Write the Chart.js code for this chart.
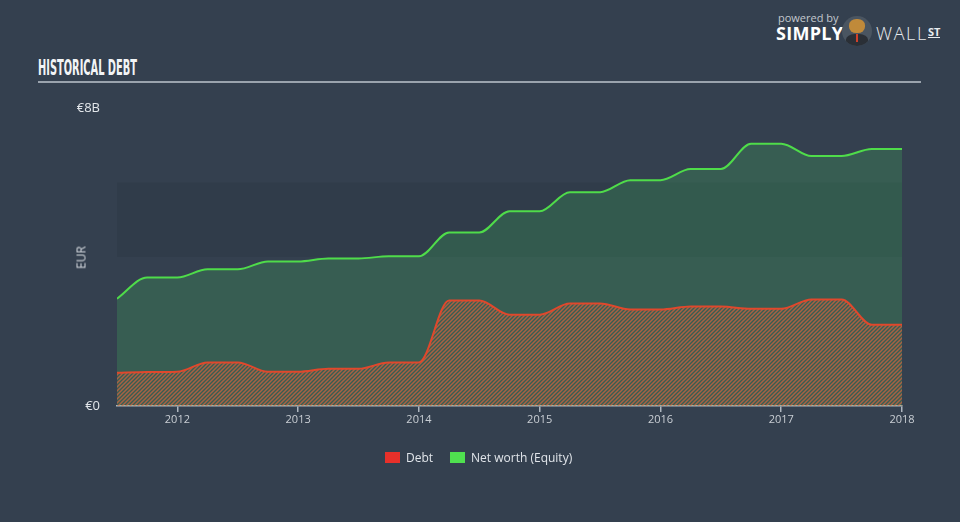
<!DOCTYPE html>
<html>
<head>
<meta charset="utf-8">
<script src="https://cdn.jsdelivr.net/npm/chart.js@4"></script>
<style>
  html, body { margin:0; padding:0; }
  body { width:960px; height:522px; background:#34404f; overflow:hidden; position:relative; font-family:"Open Sans", "DejaVu Sans", sans-serif; }
  #title { position:absolute; left:38px; top:58px; color:#f2f4f6; font:bold 21px "DejaVu Sans Condensed", sans-serif; transform-origin:left top; white-space:nowrap; line-height:21px; }
  #rule { position:absolute; left:38px; top:81px; width:883px; height:2px; background:#9aa3ad; }
  #wrap { position:absolute; left:0; top:0; width:960px; height:522px; }
  #ylab { position:absolute; left:68px; top:249px; color:#d3d8dd; font-size:12px; transform:rotate(-90deg); transform-origin:center; width:26px; text-align:center; }
  #legend { position:absolute; top:449px; left:385px; font-size:12px; color:#e1e5ea; display:flex; align-items:center; }
  #legend .sw { display:inline-block; width:15px; height:11px; margin-right:6px; }
  #legend .item { display:flex; align-items:center; margin-right:17px; }
  #logo { position:absolute; left:776px; top:10px; color:#fff; }
  #logo .pb { position:absolute; left:2px; top:0px; font-size:11px; color:#c3c8ce; white-space:nowrap; }
  #logo .simply { position:absolute; left:0; top:11px; font:bold 18px "Open Sans", sans-serif; letter-spacing:0.3px; white-space:nowrap; }
  #logo .bull { position:absolute; left:66px; top:6px; width:30px; height:30px; border-radius:50%; background:#4a5561; overflow:hidden; }
  #logo .face { position:absolute; left:7px; top:3px; width:16px; height:14px; border-radius:45%; background:#c08a3a; }
  #logo .suit { position:absolute; left:4px; top:18px; width:22px; height:14px; border-radius:40% 40% 0 0; background:#2a2f36; }
  #logo .tie { position:absolute; left:14px; top:18px; width:2px; height:8px; background:#d0402a; }
  #logo .wall { position:absolute; left:100px; top:11px; font:300 18px "Open Sans", sans-serif; letter-spacing:1.6px; white-space:nowrap; color:#e8ebee; }
  #logo .st { position:absolute; left:152px; top:17px; font:bold 11px "Open Sans", sans-serif; border-bottom:1.5px solid #e8ebee; line-height:10px; color:#e8ebee; }
</style>
</head>
<body>
<div id="title">HISTORICAL DEBT</div>
<div id="rule"></div>
<div id="logo">
  <div class="pb">powered by</div>
  <div class="simply">SIMPLY</div>
  <div class="bull"><div class="suit"></div><div class="face"></div><div class="tie"></div></div>
  <div class="wall">WALL</div>
  <div class="st">ST</div>
</div>
<div id="wrap"><canvas id="debtChart" width="960" height="522"></canvas></div>
<div id="ylab">EUR</div>
<div id="legend">
  <span class="item"><span class="sw" style="background:#e8302a"></span>Debt</span>
  <span class="item"><span class="sw" style="background:#4fe04f"></span>Net worth (Equity)</span>
</div>
<script>
// quarter ends, Q2 2011 .. Q4 2017
const quarters = ['2011Q2','2011Q3','2011Q4','2012Q1','2012Q2','2012Q3','2012Q4','2013Q1','2013Q2','2013Q3','2013Q4',
  '2014Q1','2014Q2','2014Q3','2014Q4','2015Q1','2015Q2','2015Q3','2015Q4','2016Q1','2016Q2','2016Q3','2016Q4',
  '2017Q1','2017Q2','2017Q3','2017Q4'];
// EUR billions
const debt = [0.89,0.91,0.92,1.17,1.17,0.92,0.92,1.0,1.0,1.17,1.17,2.83,2.83,2.45,2.45,2.75,2.75,2.59,2.59,2.67,2.67,2.61,2.61,2.86,2.86,2.18,2.18];
const netWorth = [2.88,3.45,3.45,3.67,3.67,3.88,3.88,3.96,3.96,4.02,4.02,4.66,4.66,5.23,5.23,5.74,5.74,6.06,6.06,6.36,6.36,7.04,7.04,6.71,6.71,6.9,6.9];
const yearTicks = [2012,2013,2014,2015,2016,2017,2018];
const yTicks = [0,8];
const bandEdges = [0,2,4,6,8];

// squeeze the title to the width it has in the picture
const t = document.getElementById('title');
t.style.transform = 'scaleX(' + (99 / t.scrollWidth) + ')';

// quarter end -> fractional year (2011Q2 -> 2011.5)
const toX = q => parseInt(q.slice(0,4)) + parseInt(q.slice(5))/4;
const xs = quarters.map(toX);

function hatch(){
  const s = 4, c = document.createElement('canvas');
  c.width = s; c.height = s;
  const g = c.getContext('2d');
  g.strokeStyle = 'rgba(228,100,60,0.66)';
  g.lineWidth = 1.5;
  g.beginPath();
  g.moveTo(0,s); g.lineTo(s,0);
  g.moveTo(-1,1); g.lineTo(1,-1);
  g.moveTo(s-1,s+1); g.lineTo(s+1,s-1);
  g.stroke();
  return g.createPattern(c,'repeat');
}

const bands = {
  id:'bands',
  beforeDatasetsDraw(chart){
    const {ctx, chartArea:a, scales:{y}} = chart;
    ctx.save();
    ctx.fillStyle = '#303c4a';
    for (let i=0;i<bandEdges.length-1;i+=2){
      const y0 = y.getPixelForValue(bandEdges[i]), y1 = y.getPixelForValue(bandEdges[i+1]);
      if (i===0) continue;
      ctx.fillRect(a.left, y1, a.right-a.left, y0-y1);
    }
    ctx.restore();
  }
};

const ctx = document.getElementById('debtChart').getContext('2d');
new Chart(ctx, {
  type:'line',
  data:{
    datasets:[
      { label:'Debt', data:xs.map((x,i)=>({x, y:debt[i]})), borderColor:'#e0482c', borderWidth:2,
        backgroundColor:hatch(), fill:'origin', pointRadius:0, cubicInterpolationMode:'monotone' },
      { label:'Net worth (Equity)', data:xs.map((x,i)=>({x, y:netWorth[i]})), borderColor:'#4fdc4a', borderWidth:2,
        backgroundColor:'rgba(66,190,96,0.23)', fill:'origin', pointRadius:0, cubicInterpolationMode:'monotone' }
    ]
  },
  options:{
    responsive:false, devicePixelRatio:1, animation:false,
    layout:{ padding:{ top:108, left:0, right:58, bottom:86 } },
    plugins:{ legend:{ display:false }, tooltip:{ enabled:false } },
    scales:{
      x:{ type:'linear', min:xs[0], max:xs[xs.length-1],
        afterBuildTicks: s => { s.ticks = yearTicks.map(v=>({value:v})); },
        afterFit: s => { s.height = 30; },
        border:{ display:true, color:'#aeb6bf', width:1.5 },
        grid:{ display:true, drawOnChartArea:false, drawTicks:true, tickLength:6, color:'#aeb6bf', lineWidth:1.5 },
        ticks:{ color:'#c9ced4', font:{ size:11, family:'"Open Sans", sans-serif' }, padding:1, maxRotation:0, callback:v=>String(v) }
      },
      y:{ min:0, max:8,
        afterBuildTicks: s => { s.ticks = yTicks.map(v=>({value:v})); },
        afterFit: s => { s.width = 117; },
        border:{ display:false }, grid:{ display:false },
        ticks:{ color:'#e3e7eb', font:{ size:13, family:'"Open Sans", sans-serif' }, padding:9, callback:v => v===0 ? '€0' : '€'+v+'B' }
      }
    }
  },
  plugins:[bands]
});
</script>
</body>
</html>
